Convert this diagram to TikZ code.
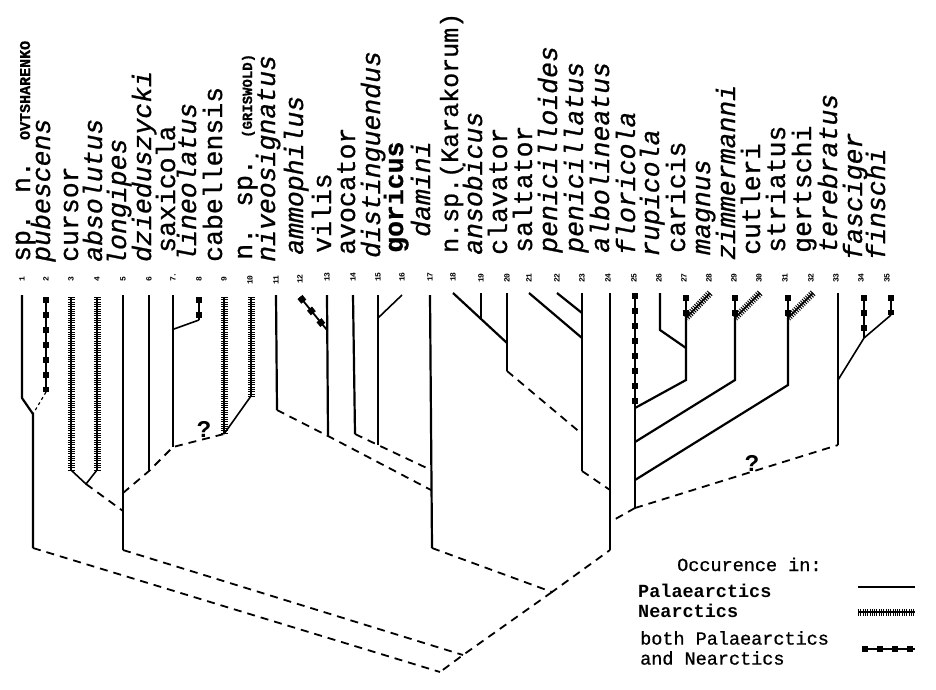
\documentclass[tikz,border=0pt]{standalone}
\usepackage{fontspec}
\setmonofont{Liberation Mono}
\newfontfamily\labfont{Liberation Mono}[FakeBold=0.8]
\usetikzlibrary{positioning}

\begin{document}
\begin{tikzpicture}[
    x=1pt, y=-1pt,
    every node/.style={inner sep=0pt},
    lab/.style={rotate=90, anchor=base west, font=\labfont\fontsize{26.5}{26.5}\selectfont},
    num/.style={rotate=90, font=\ttfamily\bfseries\fontsize{8}{8}\selectfont},
    qm/.style={font=\ttfamily\bfseries\fontsize{24}{24}\selectfont},
    legtext/.style={anchor=base west, font=\labfont\fontsize{18.5}{20}\selectfont, align=left},
    palae/.style={line width=2.2pt},
    thinpal/.style={line width=1.6pt},
    nearc/.style={line width=1.6pt, preaction={draw, line width=7pt, dash pattern=on 1pt off 1.3pt}},
    both/.style={line width=1.8pt, preaction={draw, line width=6.5pt, dash pattern=on 6pt off 9pt}},
    link/.style={line width=1.8pt, dash pattern=on 8pt off 6pt},
    faint/.style={line width=1.2pt, dash pattern=on 3pt off 3pt}
]
\useasboundingbox (0,0) rectangle (936,689);

% species labels
\node[lab] (l1) at (30,262) {sp. n. {\bfseries\fontsize{15}{15}\selectfont OVTSHARENKO}};
\node[lab] (l2) at (50,262) {\itshape pubescens};
\node[lab] (l3) at (78,262) {cursor};
\node[lab] (l4) at (102,262) {\itshape absolutus};
\node[lab] (l5) at (126,266) {\itshape longipes};
\node[lab] (l6) at (151,262) {\itshape dzieduszycki};
\node[lab] (l7) at (175,253) {saxicola};
\node[lab] (l8) at (196,262) {\itshape lineolatus};
\node[lab] (l9) at (222,262) {cabellensis};
\node[lab] (l10) at (252,260) {n. sp. {\bfseries\fontsize{14}{14}\selectfont(GRISWOLD)}};
\node[lab] (l11) at (275,262) {\itshape niveosignatus};
\node[lab] (l12) at (303,255) {\itshape ammophilus};
\node[lab] (l13) at (331,253) {vilis};
\node[lab] (l14) at (355,255) {avocator};
\node[lab] (l15) at (380,258) {\itshape distinguendus};
\node[lab] (l16) at (403,253) {\bfseries goricus};
\node[lab] (l17) at (430,237) {\itshape damini};
\node[lab, font=\labfont\fontsize{25}{25}\selectfont] (l18) at (458,253) {n.sp.(Karakorum)};
\node[lab] (l19) at (482,255) {\itshape ansobicus};
\node[lab] (l20) at (507,255) {clavator};
\node[lab] (l21) at (532,253) {saltator};
\node[lab] (l22) at (557,253) {\itshape penicilloides};
\node[lab] (l23) at (583,253) {\itshape penicillatus};
\node[lab] (l24) at (609,253) {\itshape albolineatus};
\node[lab] (l25) at (635,255) {\itshape floricola};
\node[lab] (l26) at (659,257) {\itshape rupicola};
\node[lab] (l27) at (685,253) {caricis};
\node[lab] (l28) at (710,255) {\itshape magnus};
\node[lab] (l29) at (735,260) {\itshape zimmermanni};
\node[lab] (l30) at (760,255) {cutleri};
\node[lab] (l31) at (785,253) {striatus};
\node[lab] (l32) at (811,253) {gertschi};
\node[lab] (l33) at (837,253) {\itshape terebratus};
\node[lab] (l34) at (862,260) {\itshape fasciger};
\node[lab] (l35) at (885,260) {\itshape finschi};

% numbers
\node[num] (n1) at (22,279) {1};
\node[num] (n2) at (46,279) {2};
\node[num] (n3) at (71,279) {3};
\node[num] (n4) at (97,279) {4};
\node[num] (n5) at (123,279) {5};
\node[num] (n6) at (149,279) {6};
\node[num] (n7) at (173,277) {7.};
\node[num] (n8) at (199,279) {8};
\node[num] (n9) at (224,279) {9};
\node[num] (n10) at (250,280) {10};
\node[num] (n11) at (276,280) {11};
\node[num] (n12) at (300,279) {12};
\node[num] (n13) at (327,277) {13};
\node[num] (n14) at (353,277) {14};
\node[num] (n15) at (378,277) {15};
\node[num] (n16) at (402,277) {16};
\node[num] (n17) at (430,277) {17};
\node[num] (n18) at (453,277) {18};
\node[num] (n19) at (481,278) {19};
\node[num] (n20) at (507,278) {20};
\node[num] (n21) at (529,278) {21};
\node[num] (n22) at (557,278) {22};
\node[num] (n23) at (582,278) {23};
\node[num] (n24) at (608,278) {24};
\node[num] (n25) at (634,278) {25};
\node[num] (n26) at (659,278) {26};
\node[num] (n27) at (684,278) {27};
\node[num] (n28) at (709,278) {28};
\node[num] (n29) at (734,278) {29};
\node[num] (n30) at (759,278) {30};
\node[num] (n31) at (785,278) {31};
\node[num] (n32) at (811,278) {32};
\node[num] (n33) at (836,278) {33};
\node[num] (n34) at (861,278) {34};
\node[num] (n35) at (887,278) {35};

% tips
\coordinate (t1) at (22,295);
\coordinate (t2) at (46,297);
\coordinate (t3) at (71,297);
\coordinate (t4) at (97,297);
\coordinate (t5) at (123,295);
\coordinate (t6) at (149,295);
\coordinate (t7) at (173,295);
\coordinate (t8) at (199,297);
\coordinate (t9) at (224,297);
\coordinate (t10) at (251,297);
\coordinate (t11) at (276,295);
\coordinate (t12) at (300,297);
\coordinate (t13) at (327,295);
\coordinate (t14) at (353,295);
\coordinate (t15) at (378,295);
\coordinate (t16) at (402,295);
\coordinate (t17) at (430,295);
\coordinate (t18) at (453,293);
\coordinate (t19) at (481,293);
\coordinate (t20) at (507,293);
\coordinate (t21) at (529,293);
\coordinate (t22) at (557,293);
\coordinate (t23) at (582,293);
\coordinate (t24) at (610,293);
\coordinate (t25) at (635,293);
\coordinate (t26) at (660,293);
\coordinate (t27) at (686,295);
\coordinate (t28) at (710,293);
\coordinate (t29) at (735,295);
\coordinate (t30) at (760,293);
\coordinate (t31) at (788,295);
\coordinate (t32) at (813,293);
\coordinate (t33) at (838,293);
\coordinate (t34) at (864,295);
\coordinate (t35) at (891,295);

% bends and junctions
\coordinate (k1) at (22,398);
\coordinate (k2) at (46,392);
\coordinate (j12) at (33,414);
\coordinate (b1) at (33,548);
\coordinate (k3) at (71,470);
\coordinate (k4) at (97,470);
\coordinate (j34) at (86,484);
\coordinate (m5a) at (123,511);
\coordinate (m5b) at (123,493);
\coordinate (b5) at (123,550);
\coordinate (b6) at (149,471);
\coordinate (b7) at (173,447);
\coordinate (m7) at (174,329);
\coordinate (k8) at (199,320);
\coordinate (j910) at (224,434);
\coordinate (k10) at (251,396);
\coordinate (b11) at (277,410);
\coordinate (m13) at (327,330);
\coordinate (b13) at (328,436);
\coordinate (b14) at (355,434);
\coordinate (m15) at (378,318);
\coordinate (b15) at (378,445);
\coordinate (m17a) at (431,470);
\coordinate (m17b) at (431,490);
\coordinate (b17) at (432,548);
\coordinate (m18) at (481,320);
\coordinate (m20) at (507,343);
\coordinate (b20) at (507,371);
\coordinate (m23c) at (582,313);
\coordinate (m23a) at (582,338);
\coordinate (m23b) at (582,434);
\coordinate (b23) at (582,471);
\coordinate (m24a) at (610,490);
\coordinate (m24b) at (610,522);
\coordinate (b24) at (610,550);
\coordinate (m25a) at (635,408);
\coordinate (m25b) at (635,442);
\coordinate (m25c) at (635,480);
\coordinate (b25) at (635,508);
\coordinate (k26) at (660,330);
\coordinate (m27) at (686,348);
\coordinate (k27) at (686,318);
\coordinate (b27) at (686,380);
\coordinate (k29) at (735,318);
\coordinate (b29) at (735,380);
\coordinate (k31) at (788,318);
\coordinate (b31) at (788,385);
\coordinate (m33) at (838,380);
\coordinate (b33) at (838,445);
\coordinate (k34) at (864,338);
\coordinate (k35) at (891,315);
\coordinate (J1) at (552,592);
\coordinate (J2) at (463,655);
\coordinate (J3) at (440,672);

% branches
\draw[palae] (t1) -- (k1) -- (j12) -- (b1);
\draw[both] (t2) -- (k2);
\draw[faint] (k2) -- (j12);
\draw[nearc] (t3) -- (k3);
\draw[nearc] (t4) -- (k4);
\draw[thinpal] (k3) -- (j34) -- (k4);
\draw[palae] (t5) -- (b5);
\draw[palae] (t6) -- (b6);
\draw[palae] (t7) -- (b7);
\draw[both] (t8) -- (k8);
\draw[thinpal] (k8) -- (m7);
\draw[nearc] (t9) -- (j910);
\draw[nearc] (t10) -- (k10);
\draw[thinpal] (k10) -- (j910);
\draw[palae] (t11) -- (b11);
\draw[both] (t12) -- (m13);
\draw[palae] (t13) -- (b13);
\draw[palae] (t14) -- (b14);
\draw[palae] (t15) -- (b15);
\draw[thinpal] (t16) -- (m15);
\draw[palae] (t17) -- (b17);
\draw[palae] (t18) -- (m20);
\draw[palae] (t19) -- (m18);
\draw[palae] (t20) -- (b20);
\draw[palae] (t21) -- (m23a);
\draw[palae] (t22) -- (m23c);
\draw[palae] (t23) -- (b23);
\draw[palae] (t24) -- (b24);
\draw[both] (t25) -- (m25a);
\draw[palae] (m25a) -- (b25);
\draw[palae] (t26) -- (k26) -- (m27);
\draw[both] (t27) -- (k27);
\draw[palae] (k27) -- (b27) -- (m25a);
\draw[nearc] (t28) -- (k27);
\draw[both] (t29) -- (k29);
\draw[palae] (k29) -- (b29) -- (m25b);
\draw[nearc] (t30) -- (k29);
\draw[both] (t31) -- (k31);
\draw[palae] (k31) -- (b31) -- (m25c);
\draw[nearc] (t32) -- (k31);
\draw[palae] (t33) -- (b33);
\draw[both] (t34) -- (k34);
\draw[thinpal] (k34) -- (m33);
\draw[both] (t35) -- (k35);
\draw[thinpal] (k35) -- (k34);

% dashed links
\draw[link] (j34) -- (m5a);
\draw[link] (m5b) -- (b6) -- (b7) -- (j910);
\draw[link] (b11) -- (b13) -- (m17b);
\draw[link] (b14) -- (b15) -- (m17a);
\draw[link] (b20) -- (m23b);
\draw[link] (b23) -- (m24a);
\draw[link] (b25) -- (m24b);
\draw[link] (b25) -- (b33);
\draw[link] (b17) -- (J1) -- (b24);
\draw[link] (J1) -- (J2) -- (J3);
\draw[link] (b5) -- (J2);
\draw[link] (b1) -- (J3);
\node[qm] (q1) at (204,429) {?};
\node[qm] (q2) at (752,463) {?};

% legend
\node[legtext] (occ) at (677,571) {Occurence in:};
\node[legtext, font=\ttfamily\bfseries\fontsize{18.5}{20}\selectfont] (pal) at (638,597) {Palaearctics};
\node[legtext, font=\ttfamily\bfseries\fontsize{18.5}{20}\selectfont] (nea) at (638,617) {Nearctics};
\node[legtext, anchor=west] (bth) at (640,648) {both Palaearctics\\and Nearctics};
\coordinate (ps) at (858,587);
\coordinate (pe) at (915,587);
\coordinate (ns) at (858,612);
\coordinate (ne) at (915,612);
\coordinate (bs) at (862,649);
\coordinate (be) at (915,649);
\draw[palae] (ps) -- (pe);
\draw[nearc] (ns) -- (ne);
\draw[both] (bs) -- (be);
\end{tikzpicture}
\end{document}
